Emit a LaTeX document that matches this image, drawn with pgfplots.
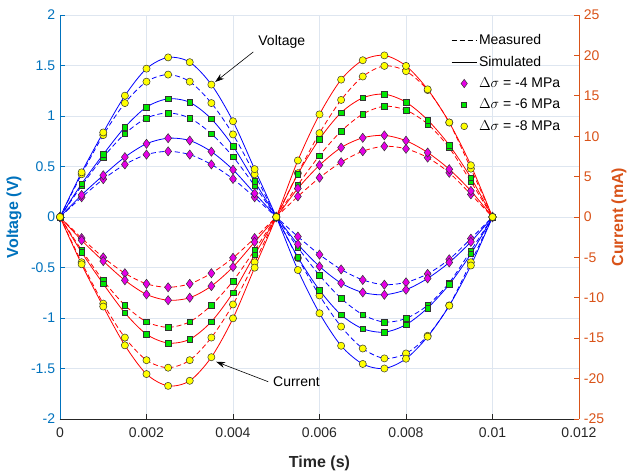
\documentclass[border=0pt]{standalone}
\usepackage{fontspec}
\setmainfont{Liberation Sans}
\usepackage{pgfplots}
\pgfplotsset{compat=1.18}
\usepackage{pgfplotstable}
\usetikzlibrary{arrows.meta}
\definecolor{mblue}{RGB}{0,114,189}
\definecolor{morange}{RGB}{217,83,25}
\definecolor{mmag}{RGB}{230,0,230}
\definecolor{mgreen}{RGB}{0,230,0}
\definecolor{myel}{RGB}{255,255,0}
\definecolor{mgrid}{RGB}{222,230,240}
\definecolor{mdark}{RGB}{38,38,38}

\pgfplotstableread{
x vS8 vS6 vS4 vM8 vM6 vM4 iS8 iS6 iS4 iM8 iM6 iM4
0      0 0 0 0 0 0 0 0 0 0 0 0
0.0005 0.442 0.328 0.218 0.423 0.309 0.195 -5.85 -4.37 -2.88 -5.60 -4.10 -2.61
0.0010 0.837 0.620 0.413 0.811 0.592 0.374 -11.08 -8.27 -5.46 -10.72 -7.85 -5.00
0.0015 1.201 0.889 0.593 1.128 0.824 0.520 -15.88 -11.86 -7.83 -14.92 -10.92 -6.96
0.0020 1.469 1.088 0.725 1.340 0.979 0.618 -19.44 -14.51 -9.58 -17.72 -12.97 -8.27
0.0025 1.580 1.170 0.780 1.410 1.030 0.650 -20.90 -15.60 -10.30 -18.65 -13.65 -8.70
0.0030 1.533 1.135 0.757 1.340 0.979 0.618 -20.27 -15.13 -9.99 -17.72 -12.97 -8.27
0.0035 1.311 0.971 0.647 1.128 0.824 0.520 -17.35 -12.95 -8.55 -14.92 -10.92 -6.96
0.0040 0.948 0.702 0.468 0.818 0.597 0.377 -12.54 -9.36 -6.18 -10.82 -7.92 -5.05
0.0045 0.474 0.351 0.234 0.423 0.309 0.195 -6.27 -4.68 -3.09 -5.60 -4.10 -2.61
0.0050 0 0 0 0 0 0 0 0 0 0 0 0
0.0055 -0.525 -0.399 -0.270 -0.406 -0.302 -0.194 7.00 5.32 3.54 5.42 3.97 2.54
0.0060 -0.953 -0.724 -0.489 -0.777 -0.577 -0.372 12.70 9.65 6.41 10.38 7.60 4.86
0.0065 -1.275 -0.969 -0.655 -1.085 -0.806 -0.519 17.00 12.92 8.59 14.49 10.62 6.78
0.0070 -1.455 -1.106 -0.747 -1.302 -0.967 -0.623 19.40 14.74 9.80 17.39 12.74 8.14
0.0075 -1.500 -1.140 -0.770 -1.400 -1.040 -0.670 20.00 15.20 10.10 18.70 13.70 8.75
0.0080 -1.403 -1.066 -0.720 -1.351 -1.004 -0.647 18.70 14.21 9.44 18.05 13.22 8.44
0.0085 -1.185 -0.901 -0.608 -1.176 -0.874 -0.563 15.80 12.01 7.98 15.71 11.51 7.35
0.0090 -0.878 -0.667 -0.450 -0.875 -0.650 -0.419 11.70 8.89 5.91 11.69 8.56 5.47
0.0095 -0.480 -0.365 -0.246 -0.448 -0.333 -0.214 6.40 4.86 3.23 5.98 4.38 2.80
0.0100 0 0 0 0 0 0 0 0 0 0 0 0
}\data

\tikzset{
  sim/.style={line width=0.8bp, smooth},
  meas/.style={line width=0.8bp, smooth, dash pattern=on 5bp off 3bp},
  m8/.style={mark=*, mark size=3.6bp, mark options={solid, fill=myel, draw=black!80, line width=0.5bp}},
  m6/.style={mark=square*, mark size=2.8bp, mark options={solid, fill=mgreen, draw=black!80, line width=0.5bp}},
  m4/.style={mark=diamond*, mark size=4.6bp, mark options={solid, fill=mmag, draw=black!80, line width=0.5bp}},
}
\pgfplotsset{
  common/.style={
    scale only axis, width=519bp, height=404bp,
    at={(60bp,53bp)}, anchor=south west,
    xmin=0, xmax=0.012, clip=false,
    tick align=inside, major tick length=5bp,
    scaled x ticks=false, scaled y ticks=false,
    /pgf/number format/assume math mode=true,
  },
  lineleg/.style={legend image code/.code={\draw[##1] (0bp,0bp) -- (25bp,0bp);}},
  markleg/.style={legend image code/.code={\draw[##1] plot coordinates {(12.5bp,0bp)};}},
}

\begin{document}
\fontsize{14bp}{17bp}\selectfont
\begin{tikzpicture}
\useasboundingbox (0,0) rectangle (627bp,472bp);
\begin{axis}[common,
  ymin=-2, ymax=2,
  axis x line*=bottom, axis y line*=left,
  x axis line style={-, color=mdark, line width=0.6bp},
  y axis line style={-, color=mblue, line width=0.6bp},
  xtick={0,0.002,0.004,0.006,0.008,0.01,0.012},
  xticklabels={0,0.002,0.004,0.006,0.008,0.01,0.012},
  ytick={-2,-1.5,-1,-0.5,0,0.5,1,1.5,2},
  yticklabels={-2,-1.5,-1,-0.5,0,0.5,1,1.5,2},
  xtick style={color=mdark, line width=0.6bp},
  ytick style={color=mblue, line width=0.6bp},
  xticklabel style={color=mdark, yshift=-4bp},
  yticklabel style={color=mblue},
  xmajorgrids, ymajorgrids,
  major grid style={color=mgrid, line width=0.6bp},
  xlabel={Time (s)},
  xlabel style={color=mdark, font=\fontsize{16bp}{18bp}\selectfont\bfseries, yshift=-9bp},
  ylabel={Voltage (V)},
  ylabel style={color=mblue, font=\fontsize{16bp}{18bp}\selectfont\bfseries},
]
\addplot[blue, meas, m4] table[x=x,y=vM4]{\data};
\addplot[blue, meas, m6] table[x=x,y=vM6]{\data};
\addplot[blue, meas, m8] table[x=x,y=vM8]{\data};
\addplot[blue, sim, m4] table[x=x,y=vS4]{\data};
\addplot[blue, sim, m6] table[x=x,y=vS6]{\data};
\addplot[blue, sim, m8] table[x=x,y=vS8]{\data};
\draw[-{Stealth[length=9bp,width=6bp]}, black, line width=0.6bp] (axis cs:0.004468,1.634) -- (axis cs:0.003588,1.337);
\node[anchor=west, inner sep=0pt] at (axis cs:0.004583,1.733) {Voltage};
\draw[-{Stealth[length=9bp,width=6bp]}, black, line width=0.6bp] (axis cs:0.004815,-1.631) -- (axis cs:0.00361,-1.433);
\node[anchor=west, inner sep=0pt] at (axis cs:0.004924,-1.634) {Current};
\end{axis}
\begin{axis}[common,
  ymin=-25, ymax=25,
  axis x line=none, axis y line*=right,
  y axis line style={-, color=morange, line width=0.6bp},
  ytick={-25,-20,-15,-10,-5,0,5,10,15,20,25},
  yticklabels={-25,-20,-15,-10,-5,0,5,10,15,20,25},
  ytick style={color=morange, line width=0.6bp},
  yticklabel style={color=morange},
  ylabel={Current (mA)},
  ylabel style={color=morange, font=\fontsize{16bp}{18bp}\selectfont\bfseries, yshift=2bp},
  legend style={draw=none, fill=none, at={(0.748,0.963)}, anchor=north west,
    row sep=5.5bp, font=\fontsize{14bp}{17bp}\selectfont},
  legend cell align=left,
]
\addlegendimage{black, line width=0.6bp, dash pattern=on 5bp off 3bp, lineleg}
\addlegendentry{Measured}
\addlegendimage{black, line width=0.6bp, lineleg}
\addlegendentry{Simulated}
\addlegendimage{only marks, mark=diamond*, mark size=4.2bp, mark options={fill=mmag, draw=black!80, line width=0.5bp}, markleg}
\addlegendentry{$\Delta\sigma$ = -4 MPa}
\addlegendimage{only marks, mark=square*, mark size=2.5bp, mark options={fill=mgreen, draw=black!80, line width=0.5bp}, markleg}
\addlegendentry{$\Delta\sigma$ = -6 MPa}
\addlegendimage{only marks, mark=*, mark size=3.4bp, mark options={fill=myel, draw=black!80, line width=0.5bp}, markleg}
\addlegendentry{$\Delta\sigma$ = -8 MPa}
\addplot[red, meas, m4, forget plot] table[x=x,y=iM4]{\data};
\addplot[red, meas, m6, forget plot] table[x=x,y=iM6]{\data};
\addplot[red, meas, m8, forget plot] table[x=x,y=iM8]{\data};
\addplot[red, sim, m4, forget plot] table[x=x,y=iS4]{\data};
\addplot[red, sim, m6, forget plot] table[x=x,y=iS6]{\data};
\addplot[red, sim, m8, forget plot] table[x=x,y=iS8]{\data};
\end{axis}
\end{tikzpicture}
\end{document}
